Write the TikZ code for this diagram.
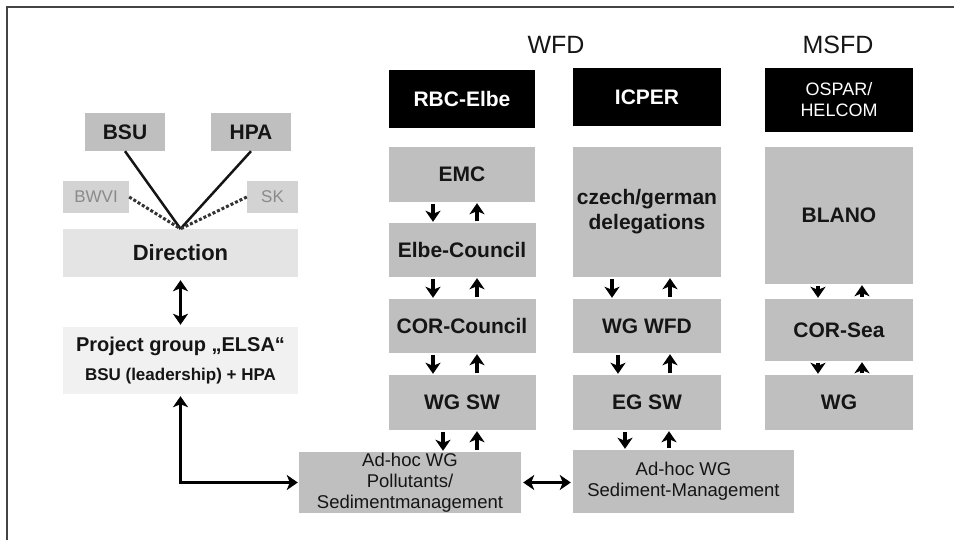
\documentclass[tikz,border=0pt]{standalone}
\usepackage{fontspec}
\setmainfont{Liberation Sans}
\usetikzlibrary{arrows.meta}
\definecolor{boxgray}{HTML}{BFBFBF}
\definecolor{dirgray}{HTML}{E4E4E4}
\definecolor{projgray}{HTML}{F1F1F1}
\definecolor{minorgray}{HTML}{D3D3D3}
\definecolor{minortext}{HTML}{8A8A8A}
\definecolor{framegray}{HTML}{444444}
\definecolor{inkblack}{HTML}{151515}
\tikzset{
  gbox/.style={fill=boxgray, draw=none, inner sep=0pt, align=center, text=inkblack,
    font=\fontsize{21}{25}\selectfont\bfseries},
  bbox/.style={fill=black, draw=none, inner sep=0pt, align=center, text=white,
    font=\fontsize{21}{25}\selectfont\bfseries},
  mbox/.style={fill=minorgray, draw=none, inner sep=0pt, text=minortext,
    font=\fontsize{17}{20}\selectfont},
  head/.style={inner sep=0pt, text=inkblack, font=\fontsize{25}{28}\selectfont},
  arr/.style={line width=3.2pt, -{Stealth[length=11pt,width=15pt,inset=3pt]}},
  darr/.style={line width=3.2pt, {Stealth[length=11pt,width=15pt,inset=3pt]}-{Stealth[length=11pt,width=15pt,inset=3pt]}},
  pairgap/.style={shorten <=1.5pt, shorten >=1pt},
}
\begin{document}
\begin{tikzpicture}[x=1pt,y=-1pt]
\useasboundingbox (0,0) rectangle (954,540);
% frame
\draw[line width=1.5pt, framegray] (7,540) -- (7,7) -- (954,7);

% headings
\node[head] (wfd) at (556,45) {WFD};
\node[head] (msfd) at (838,45) {MSFD};

% top black boxes
\node[bbox, minimum width=146pt, minimum height=58pt] (rbc) at (462,99) {RBC-Elbe};
\node[bbox, minimum width=148pt, minimum height=58pt] (icper) at (647,97) {ICPER};
\node[bbox, minimum width=148pt, minimum height=64pt,
  font=\fontsize{18}{21}\selectfont] (ospar) at (839,100) {OSPAR/\\HELCOM};

% RBC column
\node[gbox, minimum width=146pt, minimum height=55pt] (emc) at (462,174.5) {EMC};
\node[gbox, minimum width=147pt, minimum height=54pt] (elbe) at (462,250) {Elbe-Council};
\node[gbox, minimum width=147pt, minimum height=54pt] (corc) at (462,326) {COR-Council};
\node[gbox, minimum width=147pt, minimum height=55pt] (wgsw) at (462,402.5) {WG SW};

% ICPER column
\node[gbox, minimum width=148pt, minimum height=130pt] (czech) at (647,212) {czech/german\\delegations};
\node[gbox, minimum width=148pt, minimum height=54pt] (wgwfd) at (647,326) {WG WFD};
\node[gbox, minimum width=148pt, minimum height=55pt] (egsw) at (647,402.5) {EG SW};

% MSFD column
\node[gbox, minimum width=148pt, minimum height=137pt] (blano) at (839,215.5) {BLANO};
\node[gbox, minimum width=148pt, minimum height=62pt] (corsea) at (839,330) {COR-Sea};
\node[gbox, minimum width=148pt, minimum height=55pt] (wgm) at (839,402.5) {WG};

% ad-hoc boxes
\node[gbox, minimum width=222pt, minimum height=61pt,
  font=\fontsize{18.5}{21}\selectfont] (adhoc1) at (410,482.5) {Ad-hoc WG\\Pollutants/\\Sedimentmanagement};
\node[gbox, minimum width=221pt, minimum height=63pt,
  font=\fontsize{18.5}{21}\selectfont] (adhoc2) at (683.5,481.5) {Ad-hoc WG\\Sediment-Management};

% left side
\node[gbox, minimum width=80pt, minimum height=38pt] (bsu) at (125,132) {BSU};
\node[gbox, minimum width=80pt, minimum height=38pt] (hpa) at (251,132) {HPA};
\node[mbox, minimum width=66pt, minimum height=32pt] (bwvi) at (96,197) {BWVI};
\node[mbox, minimum width=51pt, minimum height=32pt] (sk) at (272.5,197) {SK};
\node[gbox, fill=dirgray, minimum width=235pt, minimum height=48pt,
  font=\fontsize{22}{26}\selectfont\bfseries] (dir) at (180.5,253) {Direction};
\node[gbox, fill=projgray, minimum width=235pt, minimum height=67pt,
  font=\bfseries] (proj) at (180.5,360.5)
  {\fontsize{20}{24}\selectfont Project group „ELSA“\\[11pt]\fontsize{17}{20}\selectfont BSU (leadership) + HPA};

\coordinate (v) at (dir.north);
\draw[line width=2.5pt, inkblack] (bsu.south) -- (v);
\draw[line width=2.5pt, inkblack] (hpa.south) -- (v);
\draw[line width=3pt, dotted, black!80] (bwvi.east) -- (v);
\draw[line width=3pt, dotted, black!80] (sk.west) -- (v);

\draw[darr, shorten <=3pt, shorten >=2pt] (dir.south) -- (proj.north);
\draw[darr, shorten <=2pt, shorten >=1pt] (proj.south) |- (adhoc1.west);
\draw[darr, shorten <=2pt, shorten >=2pt] (adhoc1.east) -- (adhoc2.west |- adhoc1.east);

% vertical arrow pairs, RBC column
\draw[arr, pairgap] ([xshift=-29pt]emc.south) -- ([xshift=-29pt]elbe.north);
\draw[arr, pairgap] ([xshift=15pt]elbe.north) -- ([xshift=15pt]emc.south);
\draw[arr, pairgap] ([xshift=-29pt]elbe.south) -- ([xshift=-29pt]corc.north);
\draw[arr, pairgap] ([xshift=15pt]corc.north) -- ([xshift=15pt]elbe.south);
\draw[arr, pairgap] ([xshift=-29pt]corc.south) -- ([xshift=-29pt]wgsw.north);
\draw[arr, pairgap] ([xshift=15pt]wgsw.north) -- ([xshift=15pt]corc.south);
\draw[arr, pairgap] ([xshift=-19pt]wgsw.south) -- ([xshift=-19pt]wgsw.south |- adhoc1.north);
\draw[arr, pairgap] ([xshift=15pt]wgsw.south |- adhoc1.north) -- ([xshift=15pt]wgsw.south);

% ICPER column
\draw[arr, pairgap] ([xshift=-35pt]czech.south) -- ([xshift=-35pt]wgwfd.north);
\draw[arr, pairgap] ([xshift=23pt]wgwfd.north) -- ([xshift=23pt]czech.south);
\draw[arr, pairgap] ([xshift=-29pt]wgwfd.south) -- ([xshift=-29pt]egsw.north);
\draw[arr, pairgap] ([xshift=23pt]egsw.north) -- ([xshift=23pt]wgwfd.south);
\draw[arr, pairgap] ([xshift=-22pt]egsw.south) -- ([xshift=-22pt]egsw.south |- adhoc2.north);
\draw[arr, pairgap] ([xshift=22pt]egsw.south |- adhoc2.north) -- ([xshift=22pt]egsw.south);

% MSFD column
\draw[arr, pairgap] ([xshift=-21pt]blano.south) -- ([xshift=-21pt]corsea.north);
\draw[arr, pairgap] ([xshift=23pt]corsea.north) -- ([xshift=23pt]blano.south);
\draw[arr, pairgap] ([xshift=-21pt]corsea.south) -- ([xshift=-21pt]wgm.north);
\draw[arr, pairgap] ([xshift=23pt]wgm.north) -- ([xshift=23pt]corsea.south);
\end{tikzpicture}
\end{document}
